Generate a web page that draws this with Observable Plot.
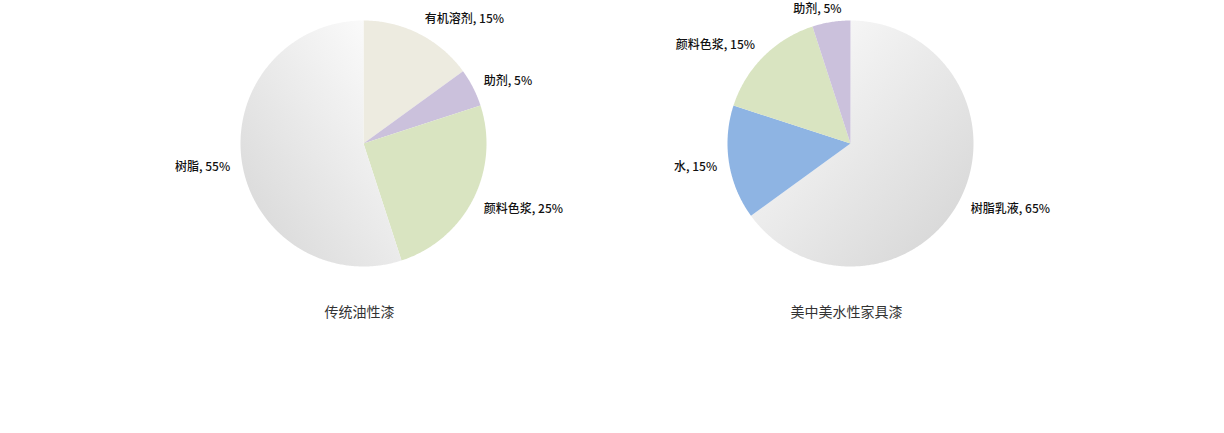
<!DOCTYPE html>
<html>
<head>
<meta charset="utf-8">
<script src="https://cdn.jsdelivr.net/npm/d3@7"></script>
<script src="https://cdn.jsdelivr.net/npm/@observablehq/plot@0.6"></script>
<style>
  html, body { margin: 0; padding: 0; background: #fff; }
</style>
</head>
<body>
<div id="chart"></div>
<script>
// ---- data ----
const pieNames = ["传统油性漆", "美中美水性家具漆"];
const oilLabels = ["有机溶剂", "助剂", "颜料色浆", "树脂"];
const oilValues = [15, 5, 25, 55];
const waterLabels = ["树脂乳液", "水", "颜料色浆", "助剂"];
const waterValues = [65, 15, 15, 5];

// ---- layout / styles ----
const W = 1224, H = 433, R = 123, LABEL_R = R + 12;
const pies = [
  {name: pieNames[0], labels: oilLabels, values: oilValues, cx: 363, cy: 143, grad: "url(#resinL)"},
  {name: pieNames[1], labels: waterLabels, values: waterValues, cx: 850, cy: 143, grad: "url(#resinR)"}
];
const sliceColors = {"有机溶剂": "#edebe0", "助剂": "#cbc1dc", "颜料色浆": "#d9e4c1", "水": "#8eb4e3"};

const polys = [], labels = [], titles = [];
const colorDomain = [], colorRange = [];
pies.forEach((p) => {
  const arcs = d3.pie().sort(null).value(d => d)(p.values);
  arcs.forEach((a, i) => {
    const lab = p.labels[i];
    const key = p.name + "|" + lab;
    colorDomain.push(key);
    colorRange.push(sliceColors[lab] || p.grad);
    const n = Math.max(2, Math.ceil((a.endAngle - a.startAngle) / 0.01));
    polys.push({key, x: p.cx, y: p.cy});
    for (let k = 0; k <= n; k++) {
      const t = a.startAngle + (a.endAngle - a.startAngle) * k / n;
      polys.push({key, x: p.cx + R * Math.sin(t), y: p.cy - R * Math.cos(t)});
    }
    const m = (a.startAngle + a.endAngle) / 2;
    const s = Math.sin(m), c = Math.cos(m);
    labels.push({
      text: `${lab}, ${p.values[i]}%`,
      x: p.cx + LABEL_R * s,
      y: Math.max(9, p.cy - LABEL_R * c - 6 * c + 1.5),
      anchor: s > 0.2 ? "start" : s < -0.2 ? "end" : "middle"
    });
  });
  titles.push({text: p.name, x: p.cx - 4, y: 312});
});

const labelFont = {fontSize: 12, fontWeight: 500, fill: "#111", lineAnchor: "middle"};

const svg = Plot.plot({
  width: W,
  height: H,
  margin: 0,
  x: {domain: [0, W], range: [0, W], axis: null},
  y: {domain: [0, H], range: [0, H], axis: null},
  color: {type: "ordinal", domain: colorDomain, range: colorRange},
  style: {fontFamily: "'Noto Sans CJK SC', 'Noto Sans', sans-serif", background: "#fff", overflow: "visible"},
  marks: [
    Plot.line(polys, {x: "x", y: "y", z: "key", fill: "key", stroke: "none", curve: "linear"}),
    Plot.text(labels.filter(d => d.anchor === "start"), {x: "x", y: "y", text: "text", textAnchor: "start", ...labelFont}),
    Plot.text(labels.filter(d => d.anchor === "end"), {x: "x", y: "y", text: "text", textAnchor: "end", ...labelFont}),
    Plot.text(labels.filter(d => d.anchor === "middle"), {x: "x", y: "y", text: "text", textAnchor: "middle", dx: -12, ...labelFont}),
    Plot.text(titles, {x: "x", y: "y", text: "text", fontSize: 14, fill: "#333", lineAnchor: "middle"})
  ]
});

// gradient definitions for the resin slices
const ns = "http://www.w3.org/2000/svg";
const defs = document.createElementNS(ns, "defs");
function grad(id, x1, y1, x2, y2, c1, c2) {
  const g = document.createElementNS(ns, "linearGradient");
  g.setAttribute("id", id);
  g.setAttribute("x1", x1); g.setAttribute("y1", y1);
  g.setAttribute("x2", x2); g.setAttribute("y2", y2);
  [[0, c1], [1, c2]].forEach(([o, c]) => {
    const st = document.createElementNS(ns, "stop");
    st.setAttribute("offset", o);
    st.setAttribute("stop-color", c);
    g.appendChild(st);
  });
  defs.appendChild(g);
}
grad("resinL", 1, 0, 0, 1, "#ffffff", "#d5d5d5");
grad("resinR", 0, 0, 1, 1, "#ffffff", "#d3d3d3");
svg.insertBefore(defs, svg.firstChild);

document.getElementById("chart").appendChild(svg);
</script>
</body>
</html>
